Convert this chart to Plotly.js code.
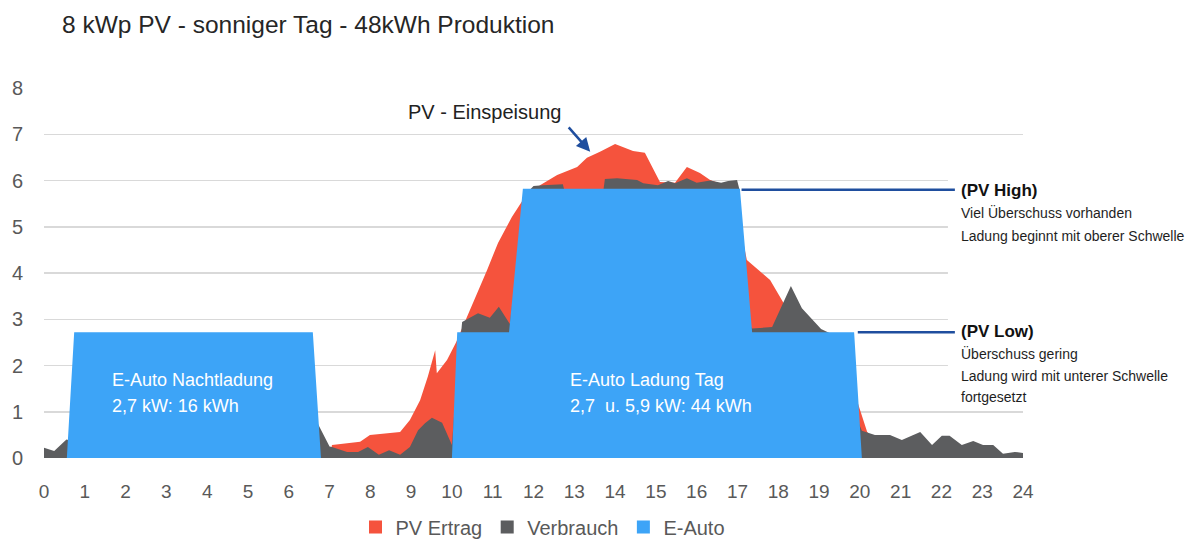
<!DOCTYPE html>
<html>
<head>
<meta charset="utf-8">
<script src="https://cdn.plot.ly/plotly-3.0.1.min.js"></script>
<style>html,body{margin:0;padding:0;background:#fff;}#chart{width:1193px;height:543px;}</style>
</head>
<body>
<div id="chart"></div>
<script>
// ---- Data (hours of the day, kW) ----
const pvHours = [0, 7.0, 7.06, 7.5, 7.75, 7.99, 8.31, 8.73, 8.97, 9.22, 9.41, 9.59, 9.63, 9.88, 10.1, 10.52, 10.86, 11.13, 11.47, 11.74, 12.16, 12.58, 13.07, 13.31, 13.63, 14.0, 14.44, 14.73, 15.1, 15.47, 15.76, 16.08, 16.33, 16.7, 17.0, 17.23, 17.8, 18.12, 18.5, 19.0, 19.5, 19.95, 20.18, 20.5, 21.0, 21.5, 24];
const pvValues = [0, 0, 0.28, 0.32, 0.35, 0.5, 0.52, 0.56, 0.82, 1.25, 1.76, 2.33, 1.83, 2.12, 2.5, 3.35, 4.06, 4.65, 5.21, 5.58, 5.9, 6.12, 6.29, 6.49, 6.62, 6.79, 6.64, 6.6, 5.97, 5.95, 6.29, 6.16, 6.01, 5.9, 5.3, 4.28, 3.85, 3.37, 2.8, 2.5, 1.8, 1.19, 0.56, 0.3, 0.1, 0, 0];

const useHours = [0, 0.25, 0.55, 1.0, 3.0, 6.0, 6.6, 6.72, 7.0, 7.06, 7.43, 7.7, 7.94, 8.21, 8.46, 8.73, 8.97, 9.17, 9.34, 9.51, 9.76, 10.0, 10.1, 10.25, 10.64, 10.93, 11.15, 11.35, 11.42, 11.8, 12.0, 12.23, 12.72, 12.78, 13.7, 13.75, 14.05, 14.54, 14.69, 15.05, 15.3, 15.47, 15.76, 16.0, 16.33, 16.6, 16.77, 16.99, 17.05, 17.2, 17.36, 17.85, 18.31, 18.58, 19.05, 19.5, 19.86, 20.05, 20.37, 20.74, 21.03, 21.48, 21.77, 22.01, 22.2, 22.5, 22.78, 23.02, 23.27, 23.51, 23.8, 24];
const useValues = [0.22, 0.15, 0.4, 0.3, 0.3, 0.4, 0.9, 0.73, 0.25, 0.24, 0.13, 0.13, 0.24, 0.07, 0.17, 0.07, 0.24, 0.6, 0.75, 0.87, 0.76, 0.28, 1.5, 2.94, 3.13, 3.03, 3.27, 2.98, 2.9, 5.7, 5.88, 5.9, 5.92, 5.7, 5.7, 6.03, 6.05, 6.01, 5.94, 5.9, 5.99, 5.94, 6.05, 5.95, 6.0, 5.95, 5.99, 6.01, 5.8, 3.0, 2.8, 2.83, 3.72, 3.24, 2.79, 2.6, 1.0, 0.59, 0.5, 0.5, 0.39, 0.56, 0.28, 0.48, 0.48, 0.28, 0.37, 0.28, 0.28, 0.09, 0.13, 0.11];

const carHours = [0, 0.56, 0.74, 6.59, 6.79, 10.0, 10.13, 11.4, 11.74, 17.06, 17.36, 19.86, 20.05, 24];
const carValues = [0, 0, 2.72, 2.72, 0, 0, 2.72, 2.72, 5.82, 5.82, 2.72, 2.72, 0, 0];

const seriesNames = ["PV Ertrag", "Verbrauch", "E-Auto"];
const xTicks = [0,1,2,3,4,5,6,7,8,9,10,11,12,13,14,15,16,17,18,19,20,21,22,23,24];
const yTicks = [0,1,2,3,4,5,6,7,8];

// thresholds (kW)
const pvHigh = 5.8;
const pvLow = 2.72;

const RED = "#F5533D", GREY = "#5C5D5F", BLUE = "#3DA4F7";
const COLORS = [RED, GREY, BLUE];
const FONT = "Liberation Sans, Arial, sans-serif";

function area(x, y, color) {
  return {x: x, y: y, type: "scatter", mode: "lines", fill: "tozeroy", showlegend: false,
          fillcolor: color, line: {width: 0, color: color}, hoverinfo: "skip"};
}

const data = [
  area(pvHours, pvValues, RED),
  area(useHours, useValues, GREY),
  area(carHours, carValues, BLUE)
];
// legend entries (square keys)
seriesNames.forEach((n, i) => data.push({
  x: [null], y: [null], type: "scatter", mode: "markers", name: n, showlegend: true,
  marker: {symbol: "square", size: 13, color: COLORS[i]}, hoverinfo: "skip"
}));

const darkBlue = "#1F4E9E";
const txt = (x, y, text, opts) => Object.assign({
  x: x, y: y, xref: "x", yref: "y", text: text, showarrow: false,
  xanchor: "left", yanchor: "middle", font: {family: FONT, size: 14, color: "#1e1e1e"}
}, opts || {});

const annotations = [
  txt(10.81, 7.48, "PV - Einspeisung", {xanchor: "center", font: {family: FONT, size: 20, color: "#222"}}),
  {x: 13.39, y: 6.62, ax: 12.83, ay: 7.18, xref: "x", yref: "y", axref: "x", ayref: "y",
   text: "", showarrow: true, arrowhead: 2, arrowsize: 1.1, arrowwidth: 2.5, arrowcolor: darkBlue},
  txt(1.62, 1.69, "E-Auto Nachtladung", {font: {family: FONT, size: 18, color: "#ffffff"}}),
  txt(1.62, 1.12, "2,7 kW: 16 kWh", {font: {family: FONT, size: 18, color: "#ffffff"}}),
  txt(12.85, 1.69, "E-Auto Ladung Tag", {font: {family: FONT, size: 18, color: "#ffffff"}}),
  txt(12.85, 1.12, "2,7 \u00A0u. 5,9 kW: 44 kWh", {font: {family: FONT, size: 18, color: "#ffffff"}}),
  txt(22.42, 5.79, "<b>(PV High)</b>", {font: {family: FONT, size: 17, color: "#111"}}),
  txt(22.42, 5.30, "Viel Überschuss vorhanden"),
  txt(22.42, 4.80, "Ladung beginnt mit oberer Schwelle"),
  txt(22.42, 2.74, "<b>(PV Low)</b>", {font: {family: FONT, size: 17, color: "#111"}}),
  txt(22.42, 2.25, "Überschuss gering"),
  txt(22.42, 1.77, "Ladung wird mit unterer Schwelle"),
  txt(22.42, 1.32, "fortgesetzt")
];

const shapes = [
  {type: "rect", xref: "x", yref: "y", x0: 22.16, x1: 24, y0: 1.5, y1: 6.5,
   fillcolor: "#ffffff", line: {width: 0}, layer: "above"},
  {type: "line", xref: "x", yref: "y", x0: 17.1, x1: 22.33, y0: pvHigh, y1: pvHigh,
   line: {color: darkBlue, width: 2.5}, layer: "above"},
  {type: "line", xref: "x", yref: "y", x0: 19.95, x1: 22.33, y0: pvLow, y1: pvLow,
   line: {color: darkBlue, width: 2.5}, layer: "above"}
];

const layout = {
  width: 1193, height: 543,
  margin: {l: 44, r: 170, t: 88, b: 85, autoexpand: false},
  paper_bgcolor: "#ffffff", plot_bgcolor: "#ffffff",
  font: {family: FONT, color: "#595959"},
  title: {text: "8 kWp PV - sonniger Tag - 48kWh Produktion", x: 62/1193, xanchor: "left",
          xref: "container", y: 1 - 24/543, yref: "container", yanchor: "middle",
          font: {family: FONT, size: 24.5, color: "#262626"}},
  xaxis: {range: [0, 24], tickmode: "array", tickvals: xTicks, ticktext: xTicks.map(String),
          showgrid: false, zeroline: false, showline: false, ticks: "", automargin: false,
          tickfont: {family: FONT, size: 19, color: "#595959"}, ticklabelstandoff: 20, fixedrange: true},
  yaxis: {range: [0, 8], tickmode: "array", tickvals: yTicks, ticktext: yTicks.map(String),
          showgrid: true, gridcolor: "#d9d9d9", gridwidth: 1.5, zeroline: false, showline: false, ticks: "",
          automargin: false,
          tickfont: {family: FONT, size: 20, color: "#595959"}, ticklabelstandoff: 20, fixedrange: true},
  showlegend: true,
  legend: {orientation: "h", x: (543-44)/979, xanchor: "center", yref: "container", y: 1 - 527/543, yanchor: "middle",
           font: {family: FONT, size: 20, color: "#595959"}, itemwidth: 30, traceorder: "normal"},
  annotations: annotations,
  shapes: shapes
};

Plotly.newPlot("chart", data, layout, {displayModeBar: false, staticPlot: true});
</script>
</body>
</html>
